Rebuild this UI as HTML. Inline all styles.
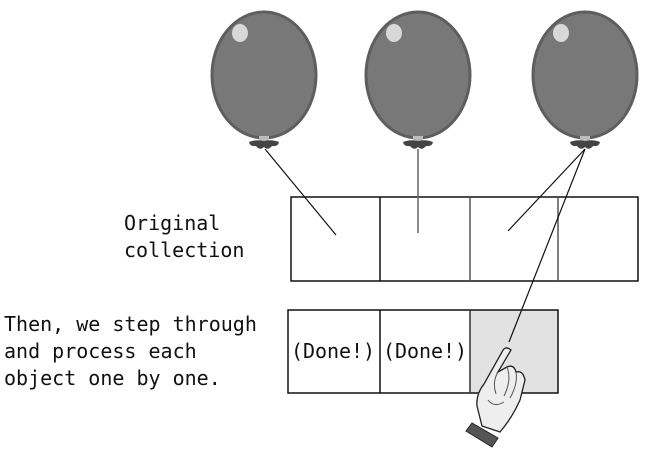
<!DOCTYPE html>
<html><head><style>
body{margin:0;width:646px;height:458px;background:#fff;overflow:hidden}
svg text{font-family:"DejaVu Sans Mono","Liberation Mono",monospace;font-size:20px;fill:#111}
</style></head><body>
<svg width="646" height="458" viewBox="0 0 646 458">
<defs>
<g id="b">
<ellipse cx="0" cy="0" rx="52" ry="63" fill="#787878" stroke="#5e5e5e" stroke-width="3"/>
<ellipse cx="-24" cy="-42" rx="8" ry="9" fill="#d8d8d8"/>
<rect x="-5" y="61" width="10" height="6" fill="#bbb"/>
<path d="M-15 67 Q-8 64 0 66 Q8 64 15 67 Q14 72 8 71 Q4 76 0 72 Q-4 76 -8 71 Q-14 72 -15 67Z" fill="#444"/>
</g>
</defs>
<use href="#b" x="264" y="75"/>
<use href="#b" x="418" y="75"/>
<use href="#b" x="585" y="75"/>
<rect x="291" y="197" width="347" height="84" fill="none" stroke="#111" stroke-width="1.5"/>
<line x1="380" y1="197" x2="380" y2="281" stroke="#111" stroke-width="1.5"/>
<line x1="470" y1="197" x2="470" y2="281" stroke="#555" stroke-width="1.5"/>
<line x1="558" y1="197" x2="558" y2="281" stroke="#555" stroke-width="1.5"/>
<rect x="470" y="310" width="88" height="83" fill="#e2e2e2"/>
<rect x="288" y="310" width="270" height="83" fill="none" stroke="#111" stroke-width="1.5"/>
<line x1="380" y1="310" x2="380" y2="393" stroke="#111" stroke-width="1.5"/>
<line x1="470" y1="310" x2="470" y2="393" stroke="#333" stroke-width="1.5"/>
<line x1="265" y1="149" x2="336" y2="235" stroke="#111" stroke-width="1.2"/>
<line x1="418" y1="149" x2="418" y2="233" stroke="#666" stroke-width="1.5"/>
<line x1="585" y1="149" x2="508" y2="231" stroke="#111" stroke-width="1.2"/>
<line x1="585" y1="149" x2="509" y2="342" stroke="#111" stroke-width="1.2"/>
<!-- hand -->
<path d="M511 350 Q505 345 502 352 L484 384 Q476 394 477 406 L482 426 L500 432 Q512 418 520 400 L525 380 Q523 370 516 372 Q514 364 507 367 L498 372 Z" fill="#eee" stroke="#222" stroke-width="1.3"/>
<path d="M498 372 Q492 382 496 394 M507 367 Q512 380 504 396 M516 372 Q518 384 510 398 M488 400 Q494 408 504 402" fill="none" stroke="#555" stroke-width="1"/>
<polygon points="466,431 472,423 498,438 492,447" fill="#555" stroke="#222"/>
<text x="124" y="230">Original</text>
<text x="124" y="257">collection</text>
<text x="4" y="331">Then, we step through</text>
<text x="4" y="358">and process each</text>
<text x="4" y="385">object one by one.</text>
<text x="291" y="358" textLength="84">(Done!)</text>
<text x="383" y="358" textLength="84">(Done!)</text>
</svg>
</body></html>
